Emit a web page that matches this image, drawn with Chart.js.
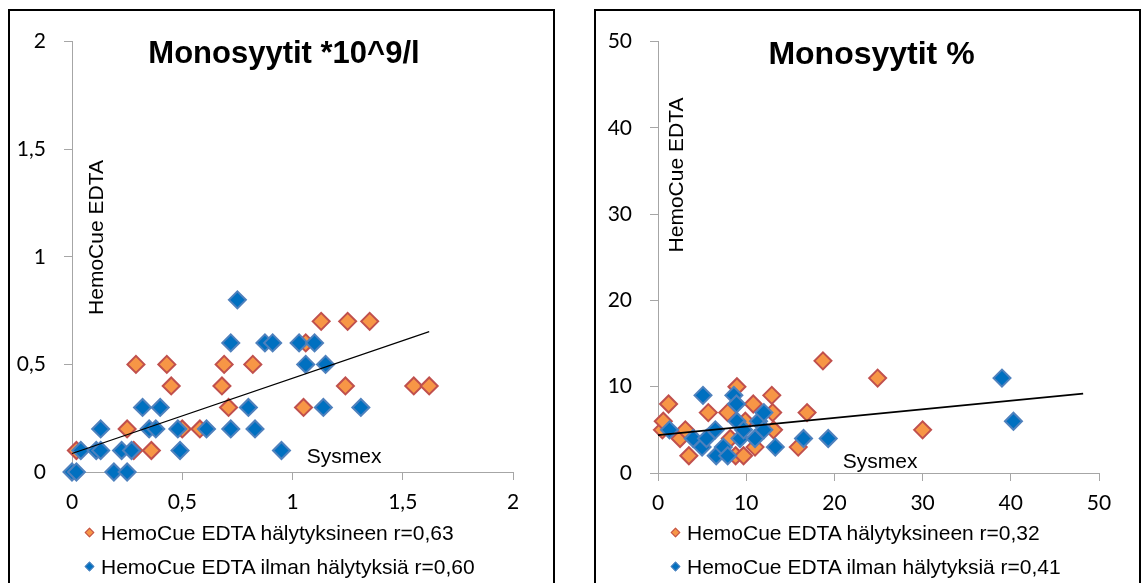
<!DOCTYPE html>
<html>
<head>
<meta charset="utf-8">
<script src="https://cdn.jsdelivr.net/npm/chart.js@4.4.1/dist/chart.umd.min.js"></script>
<style>
html,body{margin:0;padding:0;background:#fff;width:1141px;height:583px;overflow:hidden;}
.frame{position:absolute;top:9px;width:547px;height:640px;box-sizing:border-box;border:2px solid #000;background:#fff;}
#f1{left:8px;}
#f2{left:594px;}
canvas{position:absolute;left:0;top:0;}
.legend{position:absolute;left:0;top:0;font-family:"Liberation Sans",Arial,sans-serif;font-size:21px;color:#000;}
.row{position:absolute;left:0;height:34px;line-height:34px;white-space:nowrap;}
.mk{position:absolute;top:13px;width:7px;height:7px;transform:rotate(45deg);box-sizing:border-box;}
.tx{position:absolute;left:91px;top:0;}
</style>
</head>
<body>
<div class="frame" id="f1"><canvas id="c1" width="543" height="572"></canvas><div class="legend" id="lg1"></div></div>
<div class="frame" id="f2"><canvas id="c2" width="543" height="572"></canvas><div class="legend" id="lg2"></div></div>
<script>
// ---------- DATA ----------
const titleLeft = 'Monosyytit *10^9/l';
const titleRight = 'Monosyytit %';
const yAxisTitle = 'HemoCue EDTA';
const xAxisTitle = 'Sysmex';

const namesLeft = ['HemoCue EDTA hälytyksineen r=0,63', 'HemoCue EDTA ilman hälytyksiä r=0,60'];
const namesRight = ['HemoCue EDTA hälytyksineen r=0,32', 'HemoCue EDTA ilman hälytyksiä r=0,41'];

const ticksLeft = ['0', '0,5', '1', '1,5', '2'];
const ticksRight = ['0', '10', '20', '30', '40', '50'];

// Left chart: Monosyytit *10^9/l  (x = Sysmex, y = HemoCue EDTA)
const leftAlarmX = [0.02, 0.25, 0.28, 0.29, 0.36, 0.43, 0.45, 0.50, 0.58, 0.68, 0.69, 0.71, 0.82, 1.05, 1.06, 1.13, 1.24, 1.25, 1.35, 1.55, 1.62];
const leftAlarmY = [0.1, 0.2, 0.1, 0.5, 0.1, 0.5, 0.4, 0.2, 0.2, 0.4, 0.5, 0.3, 0.5, 0.3, 0.6, 0.7, 0.4, 0.7, 0.7, 0.4, 0.4];

const leftCleanX = [0.00, 0.02, 0.19, 0.25, 0.04, 0.11, 0.13, 0.225, 0.27, 0.49, 0.95, 0.13, 0.35, 0.38, 0.48, 0.61, 0.72, 0.83, 0.32, 0.40, 0.80, 1.14, 1.31, 1.06, 1.15, 0.72, 0.875, 0.91, 1.03, 1.10, 0.75];
const leftCleanY = [0, 0, 0, 0, 0.1, 0.1, 0.1, 0.1, 0.1, 0.1, 0.1, 0.2, 0.2, 0.2, 0.2, 0.2, 0.2, 0.2, 0.3, 0.3, 0.3, 0.3, 0.3, 0.5, 0.5, 0.6, 0.6, 0.6, 0.6, 0.6, 0.8];

const leftTrendX = [0, 1.62];
const leftTrendY = [0.086, 0.652];

// Right chart: Monosyytit %
const rightAlarmX = [0.5, 0.6, 1.2, 2.5, 3.1, 3.5, 5.7, 7.9, 8.2, 8.8, 8.95, 9.7, 9.9, 10.8, 11.0, 12.9, 13.0, 13.1, 15.9, 16.9, 18.7, 24.9, 30.0];
const rightAlarmY = [5, 6, 8, 4, 5, 2, 7, 7, 4, 2, 10, 2, 6, 8, 3, 9, 7, 5, 3, 7, 13, 11, 5];

const rightCleanX = [1.3, 4.0, 5.0, 5.1, 5.5, 6.5, 6.6, 7.4, 7.9, 8.6, 8.9, 8.95, 9.3, 9.7, 11.0, 11.4, 12.0, 12.0, 13.3, 16.5, 19.3, 39.0, 40.3];
const rightCleanY = [5, 4, 3, 9, 4, 5, 2, 3, 2, 9, 8, 6, 4, 5, 4, 6, 7, 5, 3, 4, 4, 11, 6];

const rightTrendX = [0, 48.2];
const rightTrendY = [4.39, 9.2];

// ---------- STYLE ----------
const ORANGE = {fill: '#F79646', line: '#C0504D'};
const BLUE = {fill: '#0070C0', line: '#4F81BD'};
const AXIS = '#a6a6a6';

function pts(xs, ys) { return xs.map((x, i) => ({x: x, y: ys[i]})); }

const overlayPlugin = {
  id: 'overlay',
  afterDraw(chart, args, o) {
    const ctx = chart.ctx, a = chart.chartArea;
    ctx.save();
    ctx.fillStyle = '#000';
    ctx.textBaseline = 'alphabetic';
    ctx.font = 'bold ' + o.titleSize + 'px "Liberation Sans", Arial, sans-serif';
    ctx.textAlign = 'center';
    ctx.fillText(o.title, (a.left + a.right) / 2 + o.titleDx, a.top + o.titleDy);
    ctx.font = '21px "Liberation Sans", Arial, sans-serif';
    ctx.save();
    ctx.translate(a.left + o.yDx, o.yCy);
    ctx.rotate(-Math.PI / 2);
    ctx.textAlign = 'center';
    ctx.fillText(o.yTitle, 0, 0);
    ctx.restore();
    ctx.textAlign = 'left';
    ctx.fillText(o.xTitle, a.left + o.xDx, a.bottom + o.xDy);
    ctx.restore();
  }
};

function axis(min, max, step, labels, isX, fit) {
  return {
    type: 'linear', min: min, max: max,
    ticks: {
      stepSize: step, color: '#000', font: {family: 'Lato', size: 21},
      padding: isX ? 10 : 18, autoSkip: false, maxRotation: 0,
      callback: (v, i) => (labels[i] !== undefined ? labels[i] : String(v))
    },
    grid: {drawOnChartArea: false, drawTicks: true, tickLength: 8, color: AXIS, lineWidth: 1},
    border: {display: true, color: AXIS, width: 1},
    afterFit: s => { if (isX) { s.height = fit; } else { s.width = fit; } }
  };
}

function makeChart(id, o) {
  const scatterBase = {pointStyle: 'rectRot', pointRadius: 8.5, pointHoverRadius: 8.5, pointBorderWidth: 2, showLine: false, clip: false};
  return new Chart(document.getElementById(id), {
    type: 'scatter',
    data: {
      datasets: [
        Object.assign({label: o.names[0], data: pts(o.ax, o.ay), backgroundColor: ORANGE.fill, borderColor: ORANGE.line, order: 2}, scatterBase),
        Object.assign({label: o.names[1], data: pts(o.bx, o.by), backgroundColor: BLUE.fill, borderColor: BLUE.line, order: 1}, scatterBase),
        {type: 'line', label: 'trend', data: pts(o.tx, o.ty), showLine: true, borderColor: '#000', borderWidth: o.trendWidth, pointRadius: 0, fill: false, order: 0, clip: false}
      ]
    },
    options: {
      responsive: false, animation: false, devicePixelRatio: 1,
      layout: {padding: {left: 0, top: o.padTop, right: 40, bottom: 0}},
      plugins: {
        legend: {display: false}, tooltip: {enabled: false},
        overlay: o.overlay
      },
      scales: {
        x: axis(o.min, o.max, o.step, o.ticks, true, o.xFit),
        y: axis(o.min, o.max, o.step, o.ticks, false, 62)
      }
    },
    plugins: [overlayPlugin]
  });
}

function buildLegend(id, names, colors) {
  const el = document.getElementById(id);
  names.forEach((n, i) => {
    const row = document.createElement('div');
    row.className = 'row';
    row.style.top = (505 + i * 34) + 'px';
    const mk = document.createElement('span');
    mk.className = 'mk';
    mk.style.left = (79 - 3.5) + 'px';
    mk.style.background = colors[i].fill;
    mk.style.border = '1px solid ' + colors[i].line;
    const tx = document.createElement('span');
    tx.className = 'tx';
    tx.textContent = n;
    row.appendChild(mk);
    row.appendChild(tx);
    el.appendChild(row);
  });
}

makeChart('c1', {
  names: namesLeft, ax: leftAlarmX, ay: leftAlarmY, bx: leftCleanX, by: leftCleanY,
  tx: leftTrendX, ty: leftTrendY, trendWidth: 1.2,
  min: 0, max: 2, step: 0.5, ticks: ticksLeft, padTop: 27, xFit: 111,
  overlay: {title: titleLeft, titleSize: 31, titleDx: -8.5, titleDy: 21, yTitle: yAxisTitle, yDx: 31, yCy: 226.5, xTitle: xAxisTitle, xDx: 234.7, xDy: -9.3}
});
makeChart('c2', {
  names: namesRight, ax: rightAlarmX, ay: rightAlarmY, bx: rightCleanX, by: rightCleanY,
  tx: rightTrendX, ty: rightTrendY, trendWidth: 2,
  min: 0, max: 50, step: 10, ticks: ticksRight, padTop: 26, xFit: 110,
  overlay: {title: titleRight, titleSize: 32, titleDx: -7, titleDy: 22, yTitle: yAxisTitle, yDx: 25, yCy: 164, xTitle: xAxisTitle, xDx: 184.7, xDy: -4.7}
});
buildLegend('lg1', namesLeft, [ORANGE, BLUE]);
buildLegend('lg2', namesRight, [ORANGE, BLUE]);
</script>
</body>
</html>
